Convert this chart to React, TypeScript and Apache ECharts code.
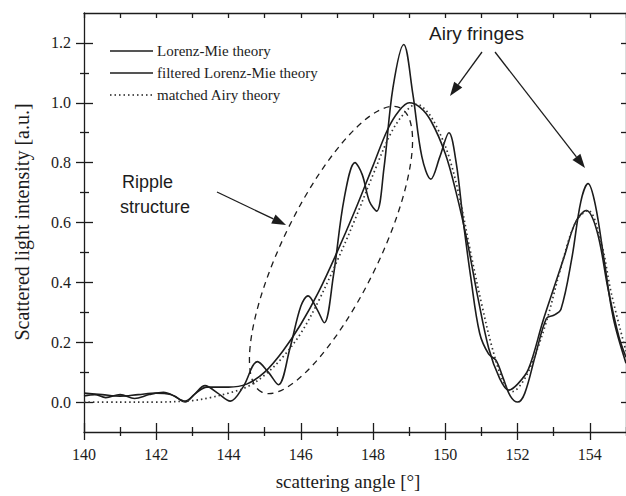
import React, { useEffect, useRef } from "react";
import * as echarts from "echarts";

// Lorenz-Mie theory (unfiltered, with ripple structure)
const lmAngle = [140.0, 140.3, 140.6, 141.0, 141.4, 141.8, 142.2, 142.5, 142.8, 143.05, 143.35, 143.7, 144.05, 144.4, 144.8, 145.1, 145.38, 145.7, 146.0, 146.2, 146.45, 146.65, 146.9, 147.2, 147.5, 147.7, 147.9, 148.1, 148.3, 148.55, 148.85, 149.1, 149.35, 149.6, 149.85, 150.1, 150.3, 150.5, 150.7, 150.95, 151.2, 151.4, 151.6, 151.8, 152.0, 152.2, 152.5, 152.8, 153.0, 153.2, 153.5, 153.75, 153.95, 154.15, 154.4, 154.65, 155.0];
const lmValue = [0.02, 0.025, 0.015, 0.025, 0.012, 0.025, 0.033, 0.02, 0.0, 0.025, 0.055, 0.03, 0.003, 0.05, 0.135, 0.1, 0.058, 0.18, 0.32, 0.355, 0.31, 0.265, 0.42, 0.68, 0.8, 0.76, 0.67, 0.638, 0.78, 1.05, 1.195, 1.03, 0.82, 0.745, 0.82, 0.9, 0.8, 0.6, 0.42, 0.23, 0.16, 0.14, 0.08, 0.02, 0.0, 0.03, 0.16, 0.28, 0.29, 0.31, 0.48, 0.67, 0.73, 0.66, 0.47, 0.28, 0.13];

// filtered Lorenz-Mie theory
const fltAngle = [140.0, 140.5, 141.0, 141.5, 142.0, 142.4, 142.8, 143.1, 143.4, 144.0, 144.5, 145.0, 145.5, 146.0, 146.5, 147.0, 147.5, 148.0, 148.4, 148.7, 149.0, 149.3, 149.6, 150.0, 150.3, 150.6, 150.9, 151.2, 151.5, 151.75, 152.0, 152.3, 152.7, 153.0, 153.3, 153.6, 153.9, 154.2, 154.5, 154.8, 155.0];
const fltValue = [0.03, 0.025, 0.02, 0.025, 0.03, 0.025, 0.003, 0.03, 0.05, 0.05, 0.06, 0.1, 0.17, 0.26, 0.37, 0.5, 0.64, 0.79, 0.91, 0.97, 1.0, 0.985, 0.94, 0.83, 0.7, 0.54, 0.35, 0.18, 0.08, 0.04, 0.06, 0.11, 0.27, 0.38, 0.49, 0.6, 0.64, 0.57, 0.38, 0.22, 0.15];

// matched Airy theory
const airyAngle = [140.0, 141.0, 142.0, 143.0, 143.5, 144.0, 144.5, 145.0, 145.5, 146.0, 146.5, 147.0, 147.5, 148.0, 148.5, 148.9, 149.2, 149.5, 149.8, 150.1, 150.4, 150.7, 151.0, 151.3, 151.6, 151.85, 152.1, 152.4, 152.8, 153.2, 153.6, 153.95, 154.3, 154.6, 155.0];
const airyValue = [0.0, 0.0, 0.0, 0.005, 0.015, 0.03, 0.05, 0.09, 0.15, 0.23, 0.34, 0.47, 0.61, 0.76, 0.9, 0.97, 0.995, 0.97, 0.91, 0.82, 0.68, 0.5, 0.33, 0.18, 0.07, 0.035, 0.06, 0.13, 0.27, 0.45, 0.6, 0.64, 0.54, 0.36, 0.17];

const seriesNames = ["Lorenz-Mie theory", "filtered Lorenz-Mie theory", "matched Airy theory"];

const xMajorTicks = [140, 142, 144, 146, 148, 150, 152, 154];
const xMinorTicks = [141, 143, 145, 147, 149, 151, 153, 155];
const xTopTicks = [140, 141, 142, 143, 144, 145, 146, 147, 148, 149, 150, 151, 152, 153, 154, 155];
const yMajorTicks = [0, 0.2, 0.4, 0.6, 0.8, 1.0, 1.2];
const yMinorTicks = [0.1, 0.3, 0.5, 0.7, 0.9, 1.1];
const yRightTicks = [0, 0.1, 0.2, 0.3, 0.4, 0.5, 0.6, 0.7, 0.8, 0.9, 1.0, 1.1, 1.2];

const INK = "#1c1c1c";
const SERIF = "Liberation Serif";
const SANS = "Liberation Sans";
const AIRY_DASH = [1.5, 3];

function zip(xs: number[], ys: number[]) {
  return xs.map((x, i) => [x, ys[i]]);
}

function arrow(x1: number, y1: number, x2: number, y2: number) {
  const len = 14;
  const half = 5;
  const dx = x2 - x1;
  const dy = y2 - y1;
  const d = Math.sqrt(dx * dx + dy * dy);
  const ux = dx / d;
  const uy = dy / d;
  const bx = x2 - ux * len;
  const by = y2 - uy * len;
  return [
    { type: "line", shape: { x1, y1, x2: bx, y2: by }, style: { stroke: INK, lineWidth: 1.3 } },
    {
      type: "polygon",
      shape: { points: [[x2, y2], [bx - uy * half, by + ux * half], [bx + uy * half, by - ux * half]] },
      style: { fill: INK },
    },
  ];
}

function tickAxis(kind: "x" | "y", position: string, values: number[], inside: boolean, length: number, showLine: boolean) {
  const base: any = {
    type: "value",
    position,
    axisLine: { show: showLine, onZero: false, lineStyle: { color: INK, width: 1.3 } },
    axisTick: { show: true, inside, length, customValues: values, lineStyle: { color: INK, width: 1.3 } },
    axisLabel: { show: false },
    splitLine: { show: false },
  };
  if (kind === "x") {
    base.min = 140;
    base.max = 155;
  } else {
    base.min = -0.1;
    base.max = 1.3;
  }
  return base;
}

function legendRow(i: number, y: number, dash: number[] | null) {
  return [
    {
      type: "line",
      shape: { x1: 110, y1: y, x2: 153, y2: y },
      style: { stroke: INK, lineWidth: 1.4, lineDash: dash || undefined },
    },
    {
      type: "text",
      x: 157,
      y,
      style: { text: seriesNames[i], font: `15px ${SERIF}`, fill: INK, textAlign: "left", textVerticalAlign: "middle" },
    },
  ];
}

const labelRich = { s: { fontFamily: SERIF, fontSize: 16, color: INK } };

export default function App() {
  const ref = useRef<HTMLDivElement>(null);
  useEffect(() => {
    if (!ref.current) return;
    const chart = echarts.init(ref.current, undefined, { renderer: "svg" });
    const xMain: any = tickAxis("x", "bottom", xMajorTicks, false, 8, true);
    xMain.axisLabel = {
      show: true,
      customValues: xMajorTicks,
      margin: 14,
      color: INK,
      fontFamily: SERIF,
      fontSize: 16,
      rich: labelRich,
      formatter: (v: number) => `{s|${Math.round(v)}}`,
    };
    const yMain: any = tickAxis("y", "left", yMajorTicks, false, 8, true);
    yMain.axisLabel = {
      show: true,
      customValues: yMajorTicks,
      margin: 13,
      color: INK,
      fontFamily: SERIF,
      fontSize: 16,
      rich: labelRich,
      formatter: (v: number) => `{s|${v.toFixed(1)}}`,
    };
    const option: any = {
      animation: false,
      backgroundColor: "#ffffff",
      textStyle: { fontFamily: SERIF },
      grid: { left: 84, top: 13, width: 546, height: 419 },
      xAxis: [
        xMain,
        tickAxis("x", "bottom", xMajorTicks, true, 9, false),
        tickAxis("x", "bottom", xMinorTicks, true, 5, false),
        tickAxis("x", "bottom", xMinorTicks, false, 4, false),
        tickAxis("x", "top", xTopTicks, true, 5, true),
      ],
      yAxis: [
        yMain,
        tickAxis("y", "left", yMajorTicks, true, 9, false),
        tickAxis("y", "left", yMinorTicks, true, 5, false),
        tickAxis("y", "left", yMinorTicks, false, 4, false),
        tickAxis("y", "right", yRightTicks, true, 5, true),
      ],
      series: [
        {
          name: seriesNames[0],
          type: "line",
          data: zip(lmAngle, lmValue),
          smooth: 0.35,
          symbol: "none",
          lineStyle: { color: INK, width: 1.6 },
          itemStyle: { color: INK },
        },
        {
          name: seriesNames[1],
          type: "line",
          data: zip(fltAngle, fltValue),
          smooth: 0.35,
          symbol: "none",
          lineStyle: { color: INK, width: 1.6 },
          itemStyle: { color: INK },
        },
        {
          name: seriesNames[2],
          type: "line",
          data: zip(airyAngle, airyValue),
          smooth: 0.35,
          symbol: "none",
          lineStyle: { color: "#333", width: 1.7, type: AIRY_DASH },
          itemStyle: { color: "#333" },
        },
      ],
      graphic: [
        ...legendRow(0, 51, null),
        ...legendRow(1, 73, null),
        ...legendRow(2, 95, AIRY_DASH),
        {
          type: "ellipse",
          x: 331,
          y: 250,
          rotation: (64 * Math.PI) / 180,
          shape: { cx: 0, cy: 0, rx: 158, ry: 48 },
          style: { fill: "none", stroke: INK, lineWidth: 1.3, lineDash: [6, 5] },
          silent: true,
        },
        ...arrow(217, 192, 286, 225),
        ...arrow(482, 52, 450, 96),
        ...arrow(495, 52, 585, 168),
        {
          type: "text",
          x: 429,
          y: 33,
          style: { text: "Airy fringes", font: `19px ${SANS}`, fill: INK, textAlign: "left", textVerticalAlign: "middle" },
        },
        {
          type: "text",
          x: 122,
          y: 182,
          style: { text: "Ripple", font: `18px ${SANS}`, fill: INK, textAlign: "left", textVerticalAlign: "middle" },
        },
        {
          type: "text",
          x: 120,
          y: 207,
          style: { text: "structure", font: `18px ${SANS}`, fill: INK, textAlign: "left", textVerticalAlign: "middle" },
        },
        {
          type: "text",
          x: 348,
          y: 481,
          style: { text: "scattering angle [°]", font: `19px ${SERIF}`, fill: INK, textAlign: "center", textVerticalAlign: "middle" },
        },
        {
          type: "text",
          x: 22,
          y: 222,
          rotation: Math.PI / 2,
          style: { text: "Scattered light intensity [a.u.]", font: `20px ${SERIF}`, fill: INK, textAlign: "center", textVerticalAlign: "middle" },
        },
      ],
    };
    chart.setOption(option);
    return () => chart.dispose();
  }, []);
  return <div ref={ref} style={{ position: "fixed", left: 0, top: 0, width: 626, height: 496 }} />;
}
